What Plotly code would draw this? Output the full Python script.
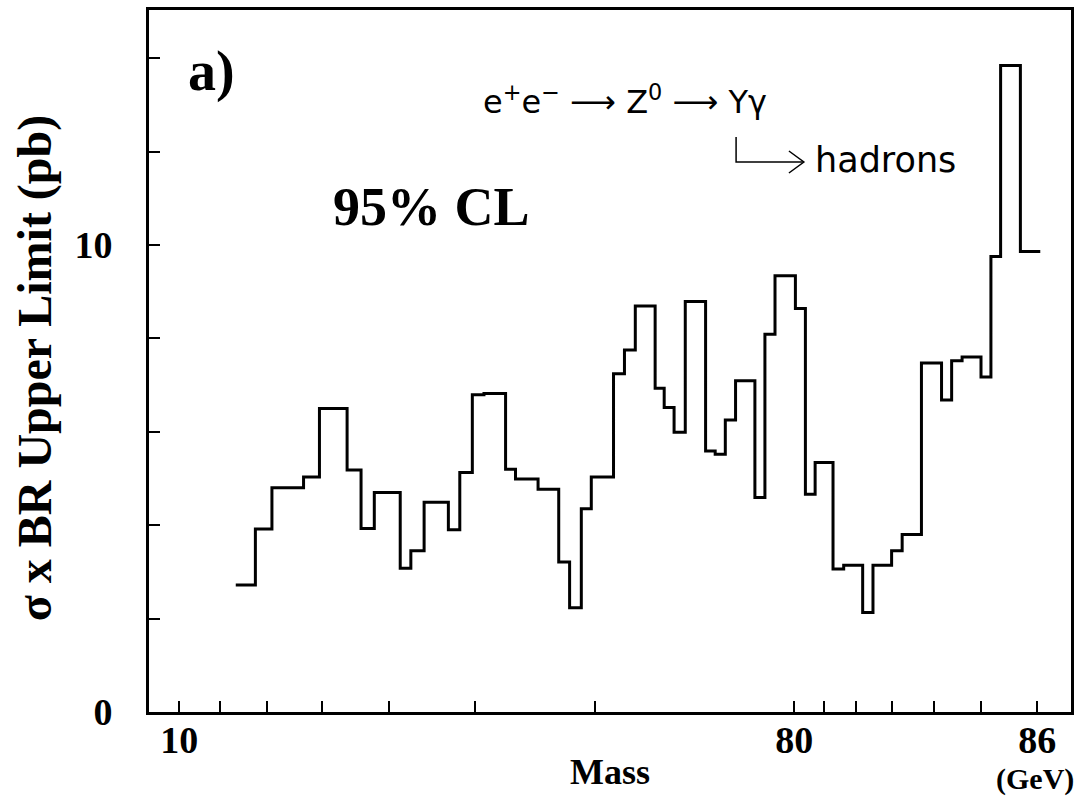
import math
import plotly.graph_objects as go

# Mass axis is linear in -ln(M_REF - m): drawn as a reversed log axis of (M_REF - m)
M_REF = 91.0

# Histogram bin edges (GeV) and 95% CL upper limits (pb)
mass_edges = [23.58, 27.74, 31.05, 36.90, 39.62, 44.03, 46.11, 48.00, 51.47, 52.81,
              54.42, 57.19, 58.42, 59.72, 60.88, 62.92, 63.81, 65.73, 67.37, 68.19,
              69.04, 69.74, 71.22, 71.91, 72.57, 73.72, 74.22, 74.75, 75.33, 76.33,
              76.78, 77.24, 77.69, 78.50, 78.90, 79.29, 80.04, 80.39, 80.72, 81.30,
              81.63, 82.19, 82.48, 82.98, 83.25, 83.72, 84.18, 84.40, 84.62, 85.00,
              85.19, 85.37, 85.72, 86.05]
upper_limit = [2.72, 3.92, 4.80, 5.03, 6.50, 5.18, 3.93, 4.70, 3.08, 3.45,
               4.49, 3.90, 5.13, 6.79, 6.82, 5.20, 4.99, 4.77, 3.21, 2.23,
               4.35, 5.03, 7.24, 7.75, 8.69, 6.93, 6.52, 5.99, 8.79, 5.59,
               5.52, 6.25, 7.09, 4.59, 8.09, 9.34, 8.64, 4.66, 5.34, 3.06,
               3.14, 2.13, 3.14, 3.45, 3.80, 7.47, 6.68, 7.52, 7.60, 7.17,
               9.75, 13.84, 9.86]

mass_ticks = [10, 20, 30, 40, 50, 60, 70, 80, 81, 82, 83, 84, 85, 86]
mass_tick_text = ["10", "", "", "", "", "", "", "80", "", "", "", "", "", "86"]
y_ticks = [0, 2, 4, 6, 8, 10, 12, 14]
y_tick_text = ["0", "", "", "", "", "10", "", ""]

mass_range = [1.65, 86.52]
y_range = [0, 15.03]

SERIF = "Liberation Serif"

x_vals = [M_REF - m for m in mass_edges]
y_vals = upper_limit + [upper_limit[-1]]

fig = go.Figure()
fig.add_trace(go.Scatter(
    x=x_vals, y=y_vals, mode="lines", line_shape="hv",
    line=dict(color="black", width=3), showlegend=False, hoverinfo="skip",
))

fig.update_xaxes(
    type="log",
    range=[math.log10(M_REF - mass_range[0]), math.log10(M_REF - mass_range[1])],
    tickmode="array", tickvals=[M_REF - m for m in mass_ticks], ticktext=mass_tick_text,
    ticks="inside", ticklen=11, tickwidth=2, tickcolor="black",
    showline=True, linewidth=3, linecolor="black", mirror=True,
    showgrid=False, zeroline=False,
    tickfont=dict(family=SERIF, size=38, color="black", weight="bold"),
    ticklabelstandoff=-8,
)
fig.update_yaxes(
    range=y_range,
    tickmode="array", tickvals=y_ticks, ticktext=y_tick_text,
    ticks="inside", ticklen=11, tickwidth=2, tickcolor="black",
    showline=True, linewidth=3, linecolor="black", mirror=True,
    showgrid=False, zeroline=False,
    tickfont=dict(family=SERIF, size=38, color="black", weight="bold"),
    ticklabelstandoff=26,
)

# plot area in pixels: x 149..1074, y 10..712
L, R, T, B = 149, 1074, 10, 712
W, H = R - L, B - T


def px(x):
    return (x - L) / W


def py(y):
    return (B - y) / H


def note(text, x, y, size, family=SERIF, weight="bold", angle=0):
    fig.add_annotation(
        text=text, x=px(x), y=py(y), xref="paper", yref="paper",
        showarrow=False, xanchor="center", yanchor="middle", textangle=angle,
        font=dict(family=family, size=size, color="black", weight=weight),
    )


note("a)", 212, 72, 56)
note("95% CL", 432, 207, 54)
note("e<sup>+</sup>e<sup>\u2212</sup> \u27f6 Z<sup>0</sup> \u27f6 \u03a5\u03b3", 627, 100, 32,
     family="DejaVu Sans", weight="normal")
note("hadrons", 888, 160, 35, family="DejaVu Sans", weight="normal")
note("Mass", 612, 772, 36)
note("(GeV)", 1038, 779, 30)
note("\u03c3 x BR Upper Limit (pb)", 35, 368, 48, angle=-90)

# decay arrow: corner line then open arrowhead
fig.add_shape(type="path", xref="paper", yref="paper",
              path=f"M {px(738)} {py(137)} L {px(738)} {py(162)} L {px(805)} {py(162)}",
              line=dict(color="black", width=1.5))
fig.add_shape(type="path", xref="paper", yref="paper",
              path=f"M {px(791)} {py(151)} L {px(806)} {py(162)} L {px(791)} {py(173)}",
              line=dict(color="black", width=1.5))

fig.update_layout(
    width=1077, height=799,
    margin=dict(l=L, r=1077 - R, t=T, b=799 - B),
    paper_bgcolor="white", plot_bgcolor="white",
)

fig.write_html("out.html")
